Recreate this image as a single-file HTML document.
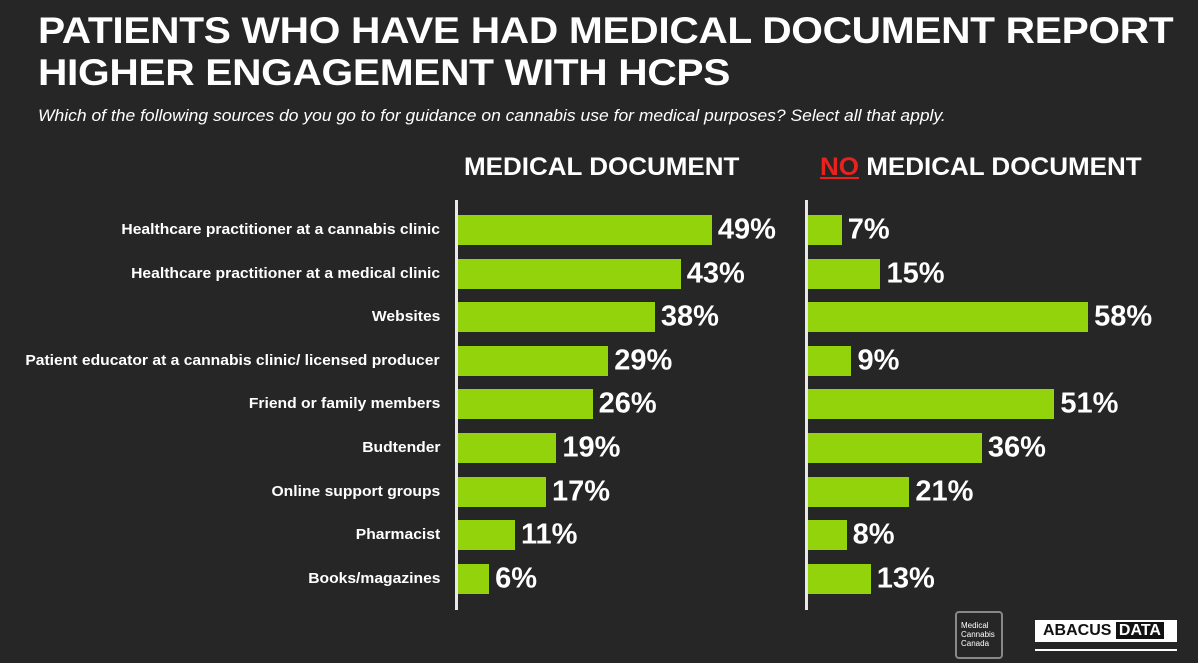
<!DOCTYPE html>
<html><head><style>
body{margin:0;width:1198px;height:663px;background:#262626;font-family:"Liberation Sans",sans-serif;color:#fff;position:relative;overflow:hidden}
.t{position:absolute;left:38px;top:10px;font-size:37px;font-weight:bold;line-height:42px;letter-spacing:-0.3px;transform:scaleX(1.1);transform-origin:left top;white-space:nowrap}
.s{position:absolute;left:38px;top:107px;font-size:16.5px;font-style:italic;transform:scaleX(1.06);transform-origin:left top;white-space:nowrap}
.h{position:absolute;top:153px;font-size:25px;font-weight:bold;transform:scaleX(1.04);transform-origin:left top;white-space:nowrap}
.ax{position:absolute;top:200px;width:3px;height:410px;background:#e8e8e8}
.l{position:absolute;right:758px;font-size:14.5px;font-weight:bold;white-space:nowrap;transform:translateY(-50%) scaleX(1.08);transform-origin:right center}
.b{position:absolute;height:30px;background:#93d30b}
.p{position:absolute;font-size:29px;font-weight:bold;transform:translateY(-50%)}
</style></head><body>
<div class="t">PATIENTS WHO HAVE HAD MEDICAL DOCUMENT REPORT<br>HIGHER ENGAGEMENT WITH HCPS</div>
<div class="s">Which of the following sources do you go to for guidance on cannabis use for medical purposes? Select all that apply.</div>
<div class="h" style="left:464px">MEDICAL DOCUMENT</div>
<div class="h" style="left:820px"><span style="color:#e8231f;text-decoration:underline">NO</span> MEDICAL DOCUMENT</div>
<div class="ax" style="left:455px"></div>
<div class="ax" style="left:805px"></div>
<div id="c"></div>
<div style="position:absolute;left:955px;top:611px;width:48px;height:48px;border:2px solid #888;border-radius:4px;box-sizing:border-box;font-size:8px;line-height:9px;padding:8px 0 0 4px">Medical<br>Cannabis<br>Canada</div>
<div style="position:absolute;left:1035px;top:620px;width:142px;height:22px;background:#fff;color:#111;font-weight:bold;font-size:16px;line-height:22px;padding-left:8px;box-sizing:border-box">ABACUS <span style="background:#111;color:#fff;padding:0 3px">DATA</span></div>
<div style="position:absolute;left:1035px;top:649px;width:142px;height:2px;background:#fff"></div>
<script>
var d=[["Healthcare practitioner at a cannabis clinic",49,7],["Healthcare practitioner at a medical clinic",43,15],["Websites",38,58],["Patient educator at a cannabis clinic/ licensed producer",29,9],["Friend or family members",26,51],["Budtender",19,36],["Online support groups",17,21],["Pharmacist",11,8],["Books/magazines",6,13]];
var h="";d.forEach(function(r,i){var y=230+i*43.6;
var w1=r[1]*5.18,w2=r[2]*4.83;
h+='<div class="l" style="top:'+y+'px">'+r[0]+'</div>';
h+='<div class="b" style="left:458px;top:'+(y-15)+'px;width:'+w1+'px"></div>';
h+='<div class="p" style="left:'+(458+w1+6)+'px;top:'+y+'px">'+r[1]+'%</div>';
h+='<div class="b" style="left:808px;top:'+(y-15)+'px;width:'+w2+'px"></div>';
h+='<div class="p" style="left:'+(808+w2+6)+'px;top:'+y+'px">'+r[2]+'%</div>';});
document.getElementById("c").innerHTML=h;
</script>
</body></html>
